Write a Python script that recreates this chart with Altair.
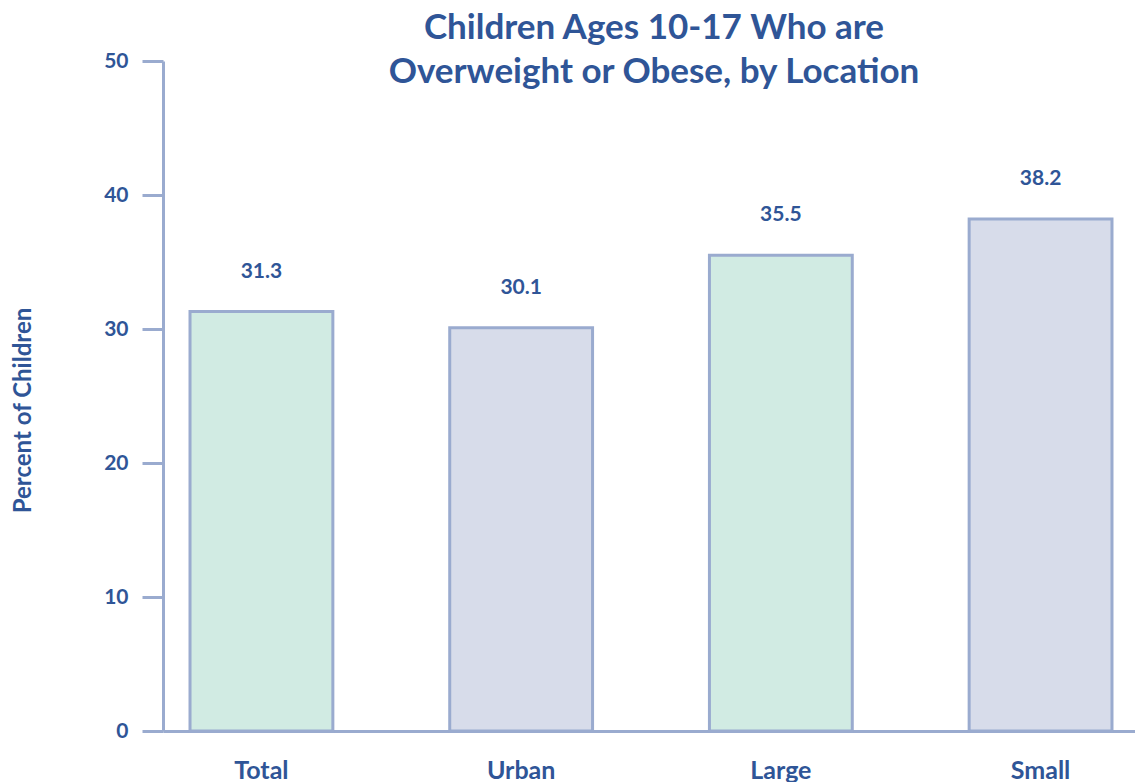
import altair as alt
import pandas as pd

categories = ["Total", "Urban", "Large", "Small"]
values = [31.3, 30.1, 35.5, 38.2]
groups = ["a", "b", "a", "b"]

df = pd.DataFrame({"cat": categories, "val": values, "grp": groups,
                   "lbl": [f"{v:.1f}" for v in values]})

BLUE = "#2f5597"
AXIS = "#9aabcf"
FONT = "Lato"

xscale = alt.Scale(paddingInner=0.45, paddingOuter=0.104, range=[0, 976])
x = alt.X("cat:N", sort=categories, scale=xscale,
          axis=alt.Axis(title=None, labelAngle=0, ticks=False, labelPadding=27,
                        labelFontSize=25, labelFont=FONT, labelFontWeight="bold",
                        labelColor=BLUE, domainColor=AXIS, domainWidth=3))
y = alt.Y("val:Q", scale=alt.Scale(domain=[0, 50]),
          axis=alt.Axis(title="Percent of Children", values=[0, 10, 20, 30, 40, 50],
                        grid=False, tickSize=21, tickWidth=3, tickColor=AXIS,
                        domainColor=AXIS, domainWidth=3, labelPadding=14,
                        labelFontSize=21, labelFont=FONT, labelFontWeight="bold",
                        labelColor=BLUE, titleFontSize=24, titleFont=FONT,
                        titleFontWeight="bold", titleColor=BLUE,
                        titleX=-128, titleY=349, titleAngle=-90))

bars = alt.Chart(df).mark_bar(stroke=AXIS, strokeWidth=3).encode(
    x=x, y=y,
    color=alt.Color("grp:N", scale=alt.Scale(domain=["a", "b"], range=["#d1ebe3", "#d7dcea"]),
                    legend=None))

text = alt.Chart(df).mark_text(dy=-30, baseline="bottom", fontSize=21, font=FONT,
                               fontWeight="bold", color=BLUE).encode(
    x=alt.X("cat:N", sort=categories, scale=xscale), y="val:Q", text="lbl:N")

chart = (bars + text).properties(
    width=972, height=670,
    autosize=alt.AutoSizeParams(type="none"),
    padding={"left": 163, "top": 61, "right": 0, "bottom": 51},
    title=alt.TitleParams(["Children Ages 10-17 Who are", "Overweight or Obese, by Location"],
                          fontSize=35, font=FONT, fontWeight="bold", color=BLUE,
                          anchor="middle", lineHeight=44, offset=-40, dx=5),
).configure_view(stroke=None)

chart.save("out.html", embed_options={"renderer": "svg", "actions": False})
